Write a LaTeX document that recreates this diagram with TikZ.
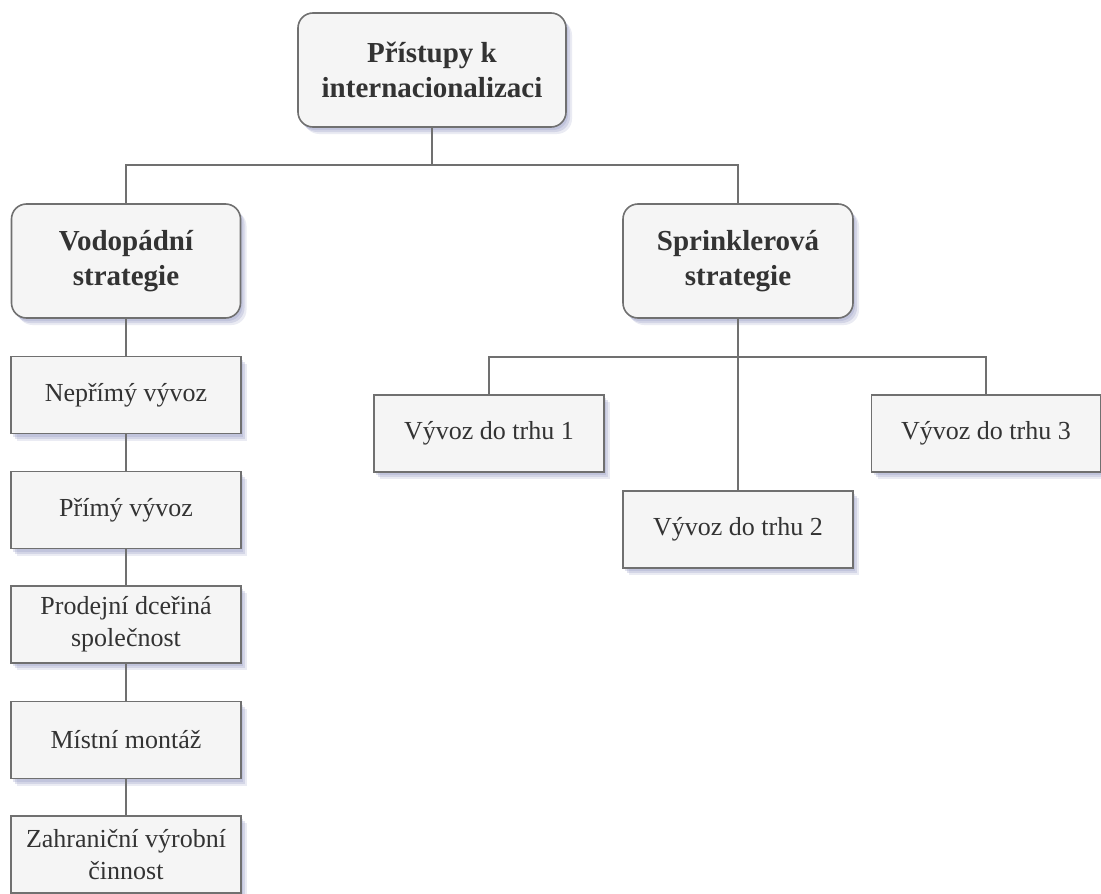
\documentclass[tikz,border=0pt]{standalone}
\usepackage{fontspec}
\setmainfont{Liberation Serif}
\usetikzlibrary{shadows}
\definecolor{boxfill}{RGB}{245,245,245}
\definecolor{boxdraw}{RGB}{112,112,112}
\definecolor{txt}{RGB}{51,51,51}
\definecolor{shadowc}{RGB}{140,145,190}
\tikzset{
  shade1/.style={general shadow={fill=shadowc, opacity=0.18, shadow xshift=6pt, shadow yshift=-7pt},
                 general shadow={fill=shadowc, opacity=0.25, shadow xshift=4pt, shadow yshift=-5pt},
                 general shadow={fill=shadowc, opacity=0.25, shadow xshift=2pt, shadow yshift=-3pt}},
  bigbox/.style={shade1, draw=boxdraw, line width=1.6pt, fill=boxfill, rounded corners=15pt,
    inner sep=0pt, align=center, text=txt, font=\fontsize{29}{35}\selectfont\bfseries},
  smallbox/.style={shade1, draw=boxdraw, line width=1.6pt, fill=boxfill,
    minimum width=230pt, minimum height=77pt,
    inner sep=0pt, align=center, text=txt, font=\fontsize{26}{32}\selectfont},
  conn/.style={draw=boxdraw, line width=1.6pt}
}
\begin{document}
\begin{tikzpicture}[x=1pt,y=-1pt]
\useasboundingbox (0,0) rectangle (1101,894);
\node[bigbox, minimum width=268pt, minimum height=114pt] (top) at (432,70) {Přístupy k\\internacionalizaci};
\node[bigbox, minimum width=229pt, minimum height=114pt] (vod) at (126,261) {Vodopádní\\strategie};
\node[bigbox, minimum width=230pt, minimum height=114pt] (spr) at (738,261) {Sprinklerová\\strategie};

\node[smallbox] (w1) at (126,395) {Nepřímý vývoz};
\node[smallbox] (w2) at (126,510) {Přímý vývoz};
\node[smallbox] (w3) at (126,624.5) {Prodejní dceřiná\\společnost};
\node[smallbox] (w4) at (126,740) {Místní montáž};
\node[smallbox] (w5) at (126,854.5) {Zahraniční výrobní\\činnost};

\node[smallbox] (s1) at (489,433.5) {Vývoz do trhu 1};
\node[smallbox] (s2) at (738,529.5) {Vývoz do trhu 2};
\node[smallbox, minimum width=229pt] (s3) at (986,433.5) {Vývoz do trhu 3};

\coordinate (b1) at (432,165);
\coordinate (b2) at (738,357);

\draw[conn] (top.south) -- (b1);
\draw[conn] (vod.north) |- (b1) -| (spr.north);
\draw[conn] (vod.south) -- (w1.north);
\draw[conn] (w1.south) -- (w2.north);
\draw[conn] (w2.south) -- (w3.north);
\draw[conn] (w3.south) -- (w4.north);
\draw[conn] (w4.south) -- (w5.north);
\draw[conn] (spr.south) -- (s2.north);
\draw[conn] (s1.north) |- (b2) -| (s3.north);
\end{tikzpicture}
\end{document}
